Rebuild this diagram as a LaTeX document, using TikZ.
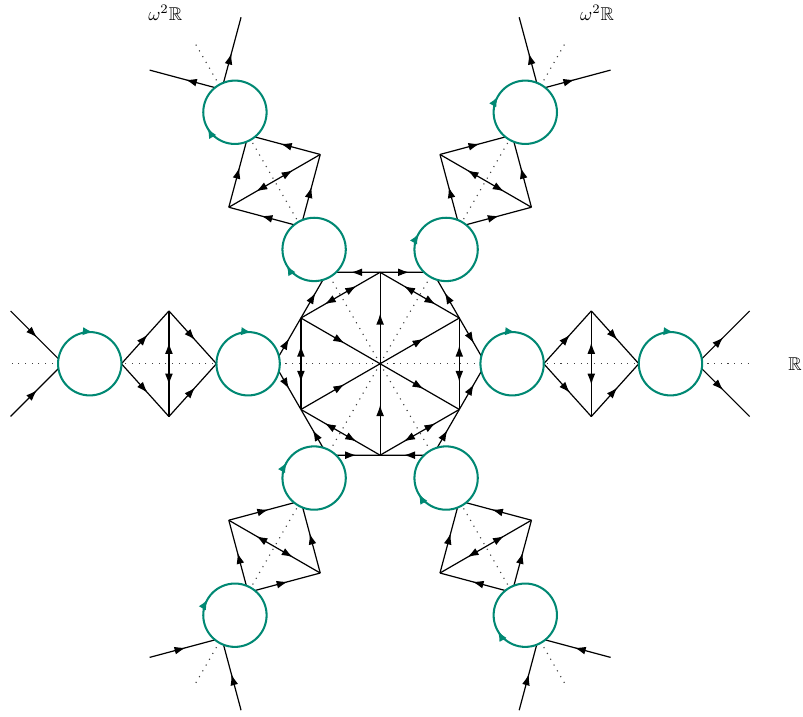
\documentclass[tikz,border=0pt]{standalone}
\usepackage{amsmath,amssymb}
\usepackage{tikz}
\usetikzlibrary{arrows.meta,calc,decorations.markings}
\definecolor{cyc}{RGB}{0,136,115}

\begin{document}
\begin{tikzpicture}[
    wall/.style={line width=0.65pt},
    flow/.style={wall, postaction={decorate}, decoration={markings, mark=at position #1 with {\arrow{Latex[length=6pt,width=4.2pt]}}}},
    flow/.default=0.55,
    split/.style={wall, postaction={decorate}, decoration={markings, mark=at position 0.3 with {\arrowreversed{Latex[length=6pt,width=4.2pt]}}, mark=at position 0.7 with {\arrow{Latex[length=6pt,width=4.2pt]}}}},
    axisline/.style={black!75, line width=0.6pt, dash pattern=on 0.6pt off 3pt},
    loopc/.style={circle, draw=cyc, line width=1.1pt, fill=white, minimum size=1.2cm, inner sep=0pt, outer sep=0pt},
    turn/.style={cyc, line width=1.1pt, -{Latex[length=5.5pt,width=4.5pt]}}
]
\useasboundingbox (-7.2,-6.69) rectangle (8.01,6.89);

% hexagon
\coordinate (hub) at (0,0);
\foreach \k in {30,90,...,330}
    \coordinate (v\k) at (\k:1.732);

% arms: angle / near tip / far tip
\foreach \a/\n/\f in {0/3.1/4.9, 60/3/5, 120/3/5, 180/3.1/4.9, 240/3/5, 300/3/5} {
    \coordinate (a\a) at (\a:2);
    \coordinate (in\a) at (\a:2.5);
    \coordinate (dn\a) at (\a:\n);
    \coordinate (l\a) at ($(\a:4)+(\a+90:1)$);
    \coordinate (r\a) at ($(\a:4)+(\a-90:1)$);
    \coordinate (df\a) at (\a:\f);
    \coordinate (out\a) at (\a:5.5);
    \coordinate (t\a) at (\a:6);
    \coordinate (tl\a) at ($(\a:7)+(\a+90:1)$);
    \coordinate (tr\a) at ($(\a:7)+(\a-90:1)$);
    \coordinate (end\a) at (\a:7);
}

% dotted axes
\foreach \a in {0,60,...,300}
    \draw[axisline] (hub) -- (end\a);

% spokes and hexagon sides
\foreach \k in {30,90,330}
    \draw[flow] (hub) -- (v\k);
\foreach \k in {150,210,270}
    \draw[flow] (v\k) -- (hub);
\foreach \k in {30,90,...,330} {
    \pgfmathtruncatemacro\m{mod(\k+60,360)}
    \draw[split] (v\k) -- (v\m);
}

% outgoing arms
\foreach \a in {0,60,120} {
    \pgfmathtruncatemacro\p{mod(\a+30,360)}
    \pgfmathtruncatemacro\q{mod(\a+330,360)}
    \draw[flow] (v\p) -- (a\a);
    \draw[flow] (v\q) -- (a\a);
    \draw[flow] (dn\a) -- (l\a);
    \draw[flow] (dn\a) -- (r\a);
    \draw[flow] (l\a) -- (df\a);
    \draw[flow] (r\a) -- (df\a);
    \draw[split] (l\a) -- (r\a);
    \draw[flow=0.5] (t\a) -- (tl\a);
    \draw[flow=0.5] (t\a) -- (tr\a);
}

% incoming arms
\foreach \a in {180,240,300} {
    \pgfmathtruncatemacro\p{mod(\a+30,360)}
    \pgfmathtruncatemacro\q{mod(\a+330,360)}
    \draw[flow] (a\a) -- (v\p);
    \draw[flow] (a\a) -- (v\q);
    \draw[flow] (l\a) -- (dn\a);
    \draw[flow] (r\a) -- (dn\a);
    \draw[flow] (df\a) -- (l\a);
    \draw[flow] (df\a) -- (r\a);
    \draw[split] (l\a) -- (r\a);
    \draw[flow=0.5] (tl\a) -- (t\a);
    \draw[flow=0.5] (tr\a) -- (t\a);
}

% loops
\foreach \a/\t in {0/84, 60/150, 120/210, 180/84, 240/150, 300/210} {
    \pgfmathtruncatemacro\s{\t+20}
    \node[loopc] (cin\a) at (in\a) {};
    \node[loopc] (cout\a) at (out\a) {};
    \draw[turn] (cin\a.\s) arc[start angle=\s, end angle=\t, radius=0.6];
    \draw[turn] (cout\a.\s) arc[start angle=\s, end angle=\t, radius=0.6];
}

\node (realaxis) at (7.86,0) {$\mathbb{R}$};
\node (rotleft) at (-4.07,6.65) {$\omega^2\mathbb{R}$};
\node (rotright) at (4.11,6.65) {$\omega^2\mathbb{R}$};
\end{tikzpicture}
\end{document}
